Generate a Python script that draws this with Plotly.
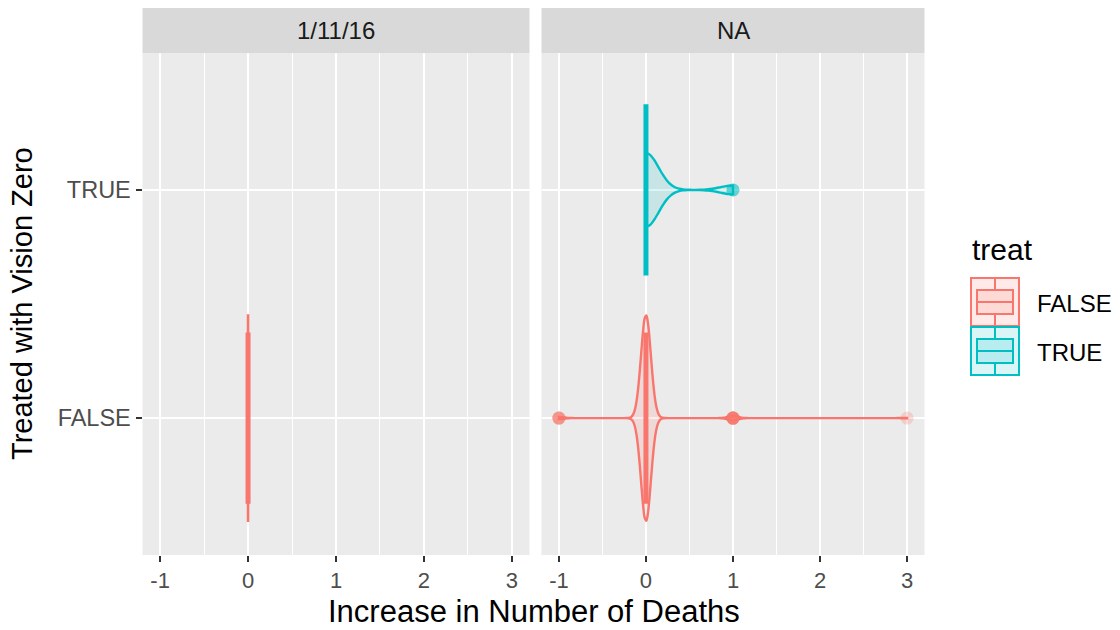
import numpy as np
import plotly.graph_objects as go

W, H = 1120, 630

# ---------------- data ----------------
panels = ["1/11/16", "NA"]
treat_levels = ["FALSE", "TRUE"]
death_values = [-1, 0, 1, 3]
# number of observations at each value of death_values
counts_1_11_16_false = [0, 40, 0, 0]
counts_na_false = [5, 483, 10, 1]
counts_na_true = [0, 25, 3, 0]

x_tick_vals = [-1, 0, 1, 2, 3]
x_tick_text = ["-1", "0", "1", "2", "3"]
x_minor_vals = [-0.5, 0.5, 1.5, 2.5]
x_title = "Increase in Number of Deaths"
y_title = "Treated with Vision Zero"
legend_title = "treat"

# ---------------- style ----------------
colors = {"FALSE": "#F8766D", "TRUE": "#00BFC4"}
fills = {"FALSE": "rgba(248,118,109,0.15)", "TRUE": "rgba(0,191,196,0.15)"}
FONT = "Liberation Sans, Arial, Helvetica, sans-serif"
VIOLIN_WIDTH = 0.9
BOX_WIDTH = 0.75


def px(x):
    return x / W


def py(y):
    return 1 - y / H


def bw_nrd0(x):
    x = np.asarray(x, float)
    hi = x.std(ddof=1)
    q75, q25 = np.percentile(x, [75, 25])
    lo = min(hi, (q75 - q25) / 1.34)
    if not lo:
        lo = hi or abs(x[0]) or 1.0
    return 0.9 * lo * len(x) ** -0.2


def kde_max(x, bw):
    x = np.asarray(x, float)
    if x.min() == x.max():
        grid = np.array([x.min()])
    else:
        grid = np.linspace(x.min(), x.max(), 1024)
    d = np.exp(-0.5 * ((grid[:, None] - x[None, :]) / bw) ** 2).sum(1)
    return (d / (len(x) * bw * np.sqrt(2 * np.pi))).max()


groups = [
    (0, "FALSE", counts_1_11_16_false),
    (1, "FALSE", counts_na_false),
    (1, "TRUE", counts_na_true),
]

# ggplot-like scale="area": violins of one panel scaled by the panel's max density
info = []
for pi, treat, counts in groups:
    vals = np.repeat(death_values, counts).astype(float)
    bw = bw_nrd0(vals)
    info.append((pi, treat, vals, bw, kde_max(vals, bw)))
panel_max = {}
for pi, _, _, _, m in info:
    panel_max[pi] = max(panel_max.get(pi, 0), m)

fig = go.Figure()
for k, (pi, treat, vals, bw, m) in enumerate(info):
    xa = "x" if pi == 0 else "x2"
    ya = "y" if pi == 0 else "y2"
    if vals.min() == vals.max():
        vkw = dict(spanmode="manual", span=[vals.min() - 1e-3, vals.max() + 1e-3])
    else:
        vkw = dict(spanmode="hard")
    fig.add_trace(go.Violin(
        x=vals, y=[treat] * len(vals), orientation="h",
        xaxis=xa, yaxis=ya, width=VIOLIN_WIDTH * m / panel_max[pi],
        scalemode="width", scalegroup="v%d" % k, bandwidth=bw, points=False,
        line=dict(color=colors[treat], width=2.4), fillcolor=fills[treat],
        box_visible=False, meanline_visible=False, showlegend=False,
        hoverinfo="skip", **vkw))
for pi, treat, vals, bw, m in info:
    xa = "x" if pi == 0 else "x2"
    ya = "y" if pi == 0 else "y2"
    fig.add_trace(go.Box(
        x=vals, y=[treat] * len(vals), orientation="h",
        xaxis=xa, yaxis=ya, width=BOX_WIDTH, boxpoints="outliers",
        jitter=0, pointpos=0, whiskerwidth=0,
        line=dict(color=colors[treat], width=5), fillcolor=fills[treat],
        marker=dict(color=colors[treat], size=13, opacity=0.25,
                    line=dict(width=0)),
        showlegend=False, hoverinfo="skip"))

panel_x = [(142.5, 529.5), (541.5, 924.5)]
panel_top, panel_bot = 53, 555
strip_top = 8

xcommon = dict(range=[-1.2, 3.2], tickmode="array", tickvals=x_tick_vals,
               ticktext=x_tick_text, ticks="outside", ticklen=6, tickwidth=1.5,
               tickcolor="#333333", tickfont=dict(family=FONT, size=22, color="#4D4D4D"),
               showgrid=True, gridcolor="white", gridwidth=2.2, zeroline=False,
               showline=False, automargin=False,
               minor=dict(tickmode="array", tickvals=x_minor_vals, showgrid=True,
                          gridcolor="white", gridwidth=1.1, ticks=""))
ycommon = dict(type="category", categoryorder="array", categoryarray=treat_levels,
               range=[-0.6, 1.6], showgrid=True, gridcolor="white", gridwidth=2.2,
               zeroline=False, showline=False, automargin=False,
               domain=[py(panel_bot), py(panel_top)])

fig.update_layout(
    width=W, height=H, margin=dict(l=0, r=0, t=0, b=0),
    paper_bgcolor="white", plot_bgcolor="#EBEBEB",
    showlegend=False, violinmode="overlay", boxmode="overlay",
    xaxis=dict(domain=[px(panel_x[0][0]), px(panel_x[0][1])], anchor="y", **xcommon),
    xaxis2=dict(domain=[px(panel_x[1][0]), px(panel_x[1][1])], anchor="y2", **xcommon),
    yaxis=dict(anchor="x", ticks="outside", ticklen=6, tickwidth=1.5,
               tickcolor="#333333", tickvals=treat_levels, ticktext=treat_levels,
               tickfont=dict(family=FONT, size=23.5, color="#4D4D4D"), **ycommon),
    yaxis2=dict(anchor="x2", matches="y", showticklabels=False, ticks="", **ycommon),
)

shapes = []
annotations = []
# facet strips
for (x0, x1), label in zip(panel_x, panels):
    shapes.append(dict(type="rect", xref="paper", yref="paper",
                       x0=px(x0), x1=px(x1), y0=py(panel_top), y1=py(strip_top),
                       fillcolor="#D9D9D9", line=dict(width=0), layer="below"))
    annotations.append(dict(xref="paper", yref="paper", x=px((x0 + x1) / 2),
                            y=py((strip_top + panel_top) / 2), text=label,
                            showarrow=False, xanchor="center", yanchor="middle",
                            font=dict(family=FONT, size=24, color="#1A1A1A")))
# axis titles
annotations.append(dict(xref="paper", yref="paper", x=px((panel_x[0][0] + panel_x[1][1]) / 2),
                        y=py(611), text=x_title, showarrow=False, xanchor="center",
                        yanchor="middle", font=dict(family=FONT, size=31, color="black")))
annotations.append(dict(xref="paper", yref="paper", x=px(22),
                        y=py((panel_top + panel_bot) / 2), text=y_title, textangle=-90,
                        showarrow=False, xanchor="center", yanchor="middle",
                        font=dict(family=FONT, size=29, color="black")))
# legend
annotations.append(dict(xref="paper", yref="paper", x=px(970), y=py(250),
                        text=legend_title, showarrow=False, xanchor="left",
                        yanchor="middle", font=dict(family=FONT, size=30, color="black")))
key_x0, key_size = 971, 48
key_tops = [278, 327]
for treat, top in zip(treat_levels, key_tops):
    c, f = colors[treat], fills[treat]
    x0, x1 = key_x0, key_x0 + key_size
    y0, y1 = top, top + key_size
    shapes.append(dict(type="rect", xref="paper", yref="paper",
                       x0=px(x0), x1=px(x1), y0=py(y1), y1=py(y0),
                       fillcolor=f, line=dict(color=c, width=2)))
    xm = (x0 + x1) / 2
    bx0, bx1 = x0 + 0.125 * key_size, x0 + 0.875 * key_size
    shapes.append(dict(type="line", xref="paper", yref="paper",
                       x0=px(xm), x1=px(xm), y0=py(y0 + 0.02 * key_size),
                       y1=py(y0 + 0.25 * key_size), line=dict(color=c, width=2)))
    shapes.append(dict(type="line", xref="paper", yref="paper",
                       x0=px(xm), x1=px(xm), y0=py(y0 + 0.75 * key_size),
                       y1=py(y0 + 0.98 * key_size), line=dict(color=c, width=2)))
    shapes.append(dict(type="rect", xref="paper", yref="paper",
                       x0=px(bx0), x1=px(bx1), y0=py(y0 + 0.75 * key_size),
                       y1=py(y0 + 0.25 * key_size), fillcolor=f,
                       line=dict(color=c, width=2)))
    shapes.append(dict(type="line", xref="paper", yref="paper",
                       x0=px(bx0), x1=px(bx1), y0=py(y0 + 0.5 * key_size),
                       y1=py(y0 + 0.5 * key_size), line=dict(color=c, width=2)))
    annotations.append(dict(xref="paper", yref="paper", x=px(1035),
                            y=py(y0 + key_size / 2 + 1), text=treat, showarrow=False,
                            xanchor="left", yanchor="middle",
                            font=dict(family=FONT, size=24, color="black")))

fig.update_layout(shapes=shapes, annotations=annotations)
fig.write_html("out.html")
